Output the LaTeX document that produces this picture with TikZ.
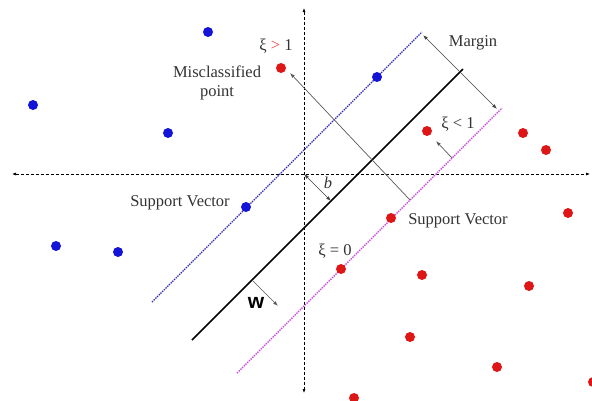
\documentclass[tikz,border=0pt]{standalone}
\usepackage{fontspec}
\setmainfont{Liberation Serif}
\newfontfamily\wfont{Liberation Sans}
\usepackage{xcolor}
\usetikzlibrary{arrows.meta,positioning,calc}

\definecolor{svblue}{RGB}{20,20,215}
\definecolor{svred}{RGB}{222,22,22}
\definecolor{lineblue}{RGB}{45,45,180}
\definecolor{lineviolet}{RGB}{200,80,220}

\begin{document}
\begin{tikzpicture}[
    x=1pt, y=-1pt,
    axis/.style={densely dashed, line width=0.6pt, {Latex[length=4pt,width=3pt]}-{Latex[length=4pt,width=3pt]}},
    bluedot/.style={circle, fill=svblue, inner sep=0pt, minimum size=10pt},
    reddot/.style={circle, fill=svred, inner sep=0pt, minimum size=10pt},
    txt/.style={font=\fontsize{16.5}{19}\selectfont, align=center, text=black!80, inner sep=0pt},
    arrow/.style={-{Latex[length=5pt,width=3.5pt]}, line width=0.7pt, draw=black!65},
    dblarrow/.style={{Latex[length=5pt,width=3.5pt]}-{Latex[length=5pt,width=3.5pt]}, line width=0.7pt, draw=black!75},
]
    \useasboundingbox (0,0) rectangle (592,400);

    % Axes
    \coordinate (xl) at (12,174);
    \coordinate (xr) at (590,174);
    \coordinate (yt) at (304,8);
    \coordinate (yb) at (304,393);
    \coordinate (o) at (304,174);
    \draw[axis] (xl) -- (xr);
    \draw[axis] (yt) -- (yb);

    % Hyperplane and margins
    \coordinate (up1) at (152,302);
    \coordinate (up2) at (422,32);
    \coordinate (hp1) at (192,340);
    \coordinate (hp2) at (463,69);
    \coordinate (lo1) at (237,373);
    \coordinate (lo2) at (502,108);
    \draw[lineblue, densely dotted, line width=1.4pt] (up1) -- (up2);
    \draw[black, line width=1.6pt] (hp1) -- (hp2);
    \draw[lineviolet, densely dotted, line width=1.4pt] (lo1) -- (lo2);

    % Points
    \node[bluedot] (b1) at (208,32) {};
    \node[bluedot] (b2) at (33,105) {};
    \node[bluedot] (b3) at (168,133) {};
    \node[bluedot] (b4) at (377,77) {};
    \node[bluedot] (b5) at (246,207) {};
    \node[bluedot] (b6) at (56,246) {};
    \node[bluedot] (b7) at (118,252) {};
    \node[reddot] (r1) at (281,68) {};
    \node[reddot] (r2) at (427,131) {};
    \node[reddot] (r3) at (523,133) {};
    \node[reddot] (r4) at (546,150) {};
    \node[reddot] (r5) at (391,218) {};
    \node[reddot] (r6) at (568,213) {};
    \node[reddot] (r7) at (341,269) {};
    \node[reddot] (r8) at (422,275) {};
    \node[reddot] (r9) at (529,286) {};
    \node[reddot] (r10) at (410,337) {};
    \node[reddot] (r11) at (497,367) {};
    \node[reddot] (r12) at (354,398) {};
    \node[reddot] (r13) at (593,382) {};

    % Labels
    \node[txt] (mis) at (217,83) {Misclassified\\point};
    \node[txt] (xig) at (276,46) {ξ {\color{svred!80}>} 1};
    \node[txt] (mrg) at (473,43) {Margin};
    \node[txt] (xil) at (458,124) {ξ < 1};
    \node[txt] (svl) at (180,203) {Support Vector};
    \node[txt] (svr) at (458,221) {Support Vector};
    \node[txt] (xie) at (335,251) {ξ = 0};
    \node[txt, font=\fontsize{16.5}{19}\selectfont\itshape] (bl) at (328,183) {b};
    \node[txt, text=black, font=\wfont\bfseries\fontsize{21}{22}\selectfont] (wl) at (256,303) {w};

    % Arrows
    \coordinate (bh) at (331,201);
    \coordinate (w1) at (252,280);
    \coordinate (w2) at (278,306);
    \coordinate (m1) at (423,35);
    \coordinate (m2) at (497,109);
    \coordinate (s1) at (452,158);
    \coordinate (s2) at (436,141);
    \coordinate (c1) at (410,200);
    \coordinate (c2) at (290,73);
    \draw[dblarrow] (o) -- (bh);
    \draw[arrow] (w1) -- (w2);
    \draw[dblarrow] (m1) -- (m2);
    \draw[arrow] (s1) -- (s2);
    \draw[arrow] (c1) -- (c2);
\end{tikzpicture}
\end{document}
